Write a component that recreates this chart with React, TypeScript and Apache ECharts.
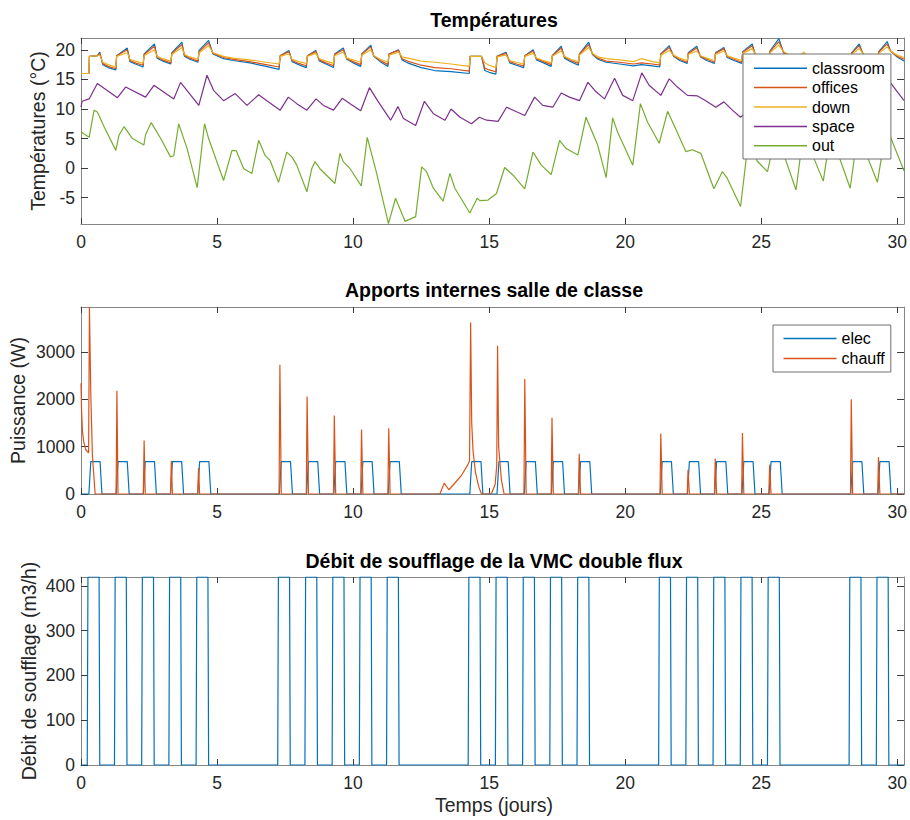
import React, { useEffect, useRef } from 'react';
import * as echarts from 'echarts';

// ---------- tick labels ----------
const xTicks = [0, 5, 10, 15, 20, 25, 30];
const tempTicks = [-5, 0, 5, 10, 15, 20];
const powerTicks = [0, 1000, 2000, 3000];
const flowTicks = [0, 100, 200, 300, 400];

// ---------- Températures : classroom / offices / down (shared time stamps, days) ----------
const topTimes = [
  0, 0.29, 0.31, 0.6, 0.69, 0.8, 1.0, 1.28,
  1.31, 1.7, 1.8, 2.0, 2.28,
  2.32, 2.7, 2.8, 3.0, 3.3,
  3.34, 3.71, 3.8, 4.0, 4.3,
  4.34, 4.69, 4.85, 5.24, 5.6, 6.2, 6.8, 7.28,
  7.32, 7.64, 7.76, 8.0, 8.28,
  8.32, 8.63, 8.76, 9.0, 9.28,
  9.32, 9.64, 9.77, 10.0, 10.28,
  10.32, 10.65, 10.76, 11.0, 11.28,
  11.32, 11.67, 11.8, 12.0, 12.5, 13.0, 13.6, 14.27,
  14.3, 14.72, 14.84, 15.0, 15.25,
  15.29, 15.62, 15.76, 16.0, 16.27,
  16.31, 16.62, 16.74, 17.0, 17.28,
  17.32, 17.65, 17.77, 18.0, 18.28,
  18.32, 18.66, 18.8, 19.0, 19.3, 19.8, 20.3, 20.6, 21.0, 21.27,
  21.31, 21.62, 21.78, 22.0, 22.28,
  22.32, 22.63, 22.77, 23.0, 23.28,
  23.32, 23.63, 23.75, 24.0, 24.28,
  24.32, 24.67, 24.79, 25.0, 25.28,
  25.32, 25.65, 25.82, 26.0, 26.4, 26.56, 26.7, 27.0, 27.5, 28.0, 28.28,
  28.32, 28.6, 28.76, 29.0, 29.28,
  29.32, 29.63, 29.75, 30.0, 30.25,
];
const classroom = [
  16.0, 16.0, 18.9, 19.0, 19.6, 17.5, 17.0, 16.6,
  19.0, 20.3, 18.0, 17.6, 17.1,
  19.3, 21.0, 18.6, 18.1, 17.6,
  19.5, 21.3, 18.9, 18.4, 17.9,
  19.9, 21.6, 19.3, 18.5, 18.2, 17.8, 17.2, 16.7,
  19.0, 19.9, 18.0, 17.5, 17.0,
  19.0, 19.9, 18.1, 17.6, 17.0,
  19.3, 20.3, 18.4, 17.8, 17.2,
  19.3, 20.8, 18.9, 18.0, 17.2,
  19.3, 20.0, 18.3, 17.8, 17.0, 16.5, 16.3, 16.0,
  18.9, 18.9, 16.5, 16.2, 15.9,
  18.9, 19.6, 17.8, 17.4, 17.0,
  19.0, 20.0, 18.3, 17.8, 17.2,
  19.0, 20.6, 18.6, 18.0, 17.4,
  19.3, 21.3, 19.2, 18.4, 17.9, 17.6, 17.3, 17.5, 17.3, 17.1,
  19.3, 20.7, 18.9, 18.2, 17.7,
  19.5, 20.6, 18.8, 18.2, 17.7,
  19.5, 20.4, 18.7, 18.2, 17.7,
  19.7, 21.0, 19.0, 18.4, 17.9,
  19.8, 21.9, 19.5, 18.8, 18.3, 18.2, 18.1, 17.9, 17.7, 17.5, 17.4,
  19.5, 21.0, 19.1, 18.5, 18.0,
  19.7, 21.4, 19.8, 18.8, 18.1,
];
const offices = [
  16.0, 16.0, 18.9, 19.0, 19.4, 17.7, 17.2, 16.8,
  19.0, 20.0, 18.2, 17.8, 17.4,
  19.2, 20.6, 18.8, 18.3, 17.8,
  19.4, 20.9, 19.1, 18.6, 18.1,
  19.7, 21.2, 19.4, 18.7, 18.4, 18.0, 17.5, 17.1,
  19.0, 19.7, 18.2, 17.7, 17.3,
  19.0, 19.7, 18.3, 17.8, 17.3,
  19.2, 20.0, 18.5, 18.0, 17.5,
  19.3, 20.5, 19.0, 18.2, 17.5,
  19.3, 19.9, 18.5, 18.1, 17.4, 17.0, 16.8, 16.4,
  18.9, 18.9, 16.9, 16.6, 16.3,
  18.9, 19.4, 18.0, 17.6, 17.3,
  19.0, 19.8, 18.5, 18.0, 17.5,
  19.0, 20.3, 18.8, 18.2, 17.7,
  19.3, 20.9, 19.3, 18.6, 18.1, 17.9, 17.6, 17.8, 17.6, 17.4,
  19.3, 20.4, 19.0, 18.4, 17.9,
  19.4, 20.3, 18.9, 18.4, 17.9,
  19.4, 20.2, 18.9, 18.4, 17.9,
  19.6, 20.7, 19.1, 18.6, 18.1,
  19.7, 21.4, 19.6, 19.0, 18.6, 18.6, 18.4, 18.2, 18.0, 17.8, 17.7,
  19.4, 20.7, 19.2, 18.7, 18.2,
  19.6, 21.0, 19.8, 18.9, 18.4,
];
const down = [
  16.0, 16.0, 18.9, 19.0, 19.1, 17.9, 17.5, 17.1,
  18.9, 19.5, 18.4, 18.1, 17.7,
  19.0, 20.0, 18.9, 18.5, 18.1,
  19.2, 20.4, 19.2, 18.8, 18.4,
  19.5, 20.7, 19.5, 18.9, 18.6, 18.3, 17.9, 17.6,
  18.9, 19.3, 18.4, 18.0, 17.7,
  18.9, 19.4, 18.5, 18.1, 17.7,
  19.0, 19.6, 18.6, 18.3, 17.9,
  19.1, 20.0, 19.0, 18.4, 17.9,
  19.1, 19.6, 18.8, 18.6, 18.1, 17.9, 17.6, 17.2,
  18.9, 18.9, 17.8, 17.4, 17.0,
  18.8, 19.1, 18.2, 17.9, 17.6,
  18.9, 19.4, 18.6, 18.2, 17.8,
  18.9, 19.8, 18.9, 18.4, 18.0,
  19.1, 20.4, 19.4, 18.8, 18.5, 18.3, 18.0, 18.5, 18.0, 17.8,
  19.1, 19.9, 19.1, 18.6, 18.2,
  19.2, 19.8, 19.0, 18.6, 18.2,
  19.2, 19.8, 19.0, 18.6, 18.2,
  19.4, 20.2, 19.2, 18.8, 18.4,
  19.5, 20.8, 19.7, 19.2, 18.9, 19.6, 19.0, 18.7, 18.4, 18.2, 18.1,
  19.2, 20.2, 19.3, 18.9, 18.5,
  19.4, 20.5, 19.8, 19.1, 18.7,
];

// ---------- space / out : [day, °C] ----------
const space = [
  [0, 10.3], [0.04, 11.3], [0.3, 11.7], [0.6, 14.3], [1.34, 11.9], [1.64, 13.7], [2.37, 12.0], [2.68, 14.0],
  [3.41, 11.7], [3.66, 14.5], [4.33, 10.6], [4.63, 15.7], [4.88, 13.1], [5.24, 11.4], [5.67, 12.6], [6.1, 10.6],
  [6.53, 12.4], [6.83, 11.4], [7.32, 9.8], [7.62, 12.0], [7.93, 10.9], [8.3, 9.8], [8.64, 11.7], [8.91, 10.6],
  [9.28, 9.8], [9.6, 11.8], [9.89, 10.9], [10.28, 9.7], [10.6, 13.6], [10.93, 11.2], [11.38, 8.1], [11.65, 10.4],
  [11.85, 8.4], [12.3, 7.2], [12.62, 11.3], [12.95, 9.2], [13.38, 8.1], [13.6, 10.0], [13.93, 8.6], [14.35, 7.5],
  [14.64, 8.6], [14.91, 8.1], [15.33, 7.9], [15.64, 10.3], [16.31, 8.9], [16.67, 12.0], [16.97, 10.6], [17.34, 10.3],
  [17.65, 12.7], [17.95, 12.0], [18.32, 11.4], [18.63, 14.5], [18.93, 12.9], [19.24, 11.7], [19.61, 15.2], [19.91, 12.3],
  [20.28, 11.4], [20.61, 16.1], [20.88, 14.0], [21.31, 12.3], [21.62, 15.1], [21.92, 13.7], [22.29, 12.3], [22.66, 12.2],
  [22.96, 11.4], [23.33, 10.3], [23.63, 11.2], [23.94, 9.8], [24.24, 8.6], [24.6, 10.0], [25.3, 8.8], [25.65, 12.5],
  [26.3, 10.5], [26.6, 12.0], [27.3, 10.5], [28.3, 10.5], [28.6, 13.0], [29.3, 11.5], [29.64, 15.1], [30.25, 11.4],
];
const out = [
  [0, 6.1], [0.3, 5.2], [0.48, 9.8], [0.6, 9.5], [0.85, 7.0], [1.28, 3.0], [1.4, 5.6], [1.58, 7.0], [1.89, 5.0],
  [2.31, 3.9], [2.37, 5.6], [2.58, 7.7], [2.93, 5.0], [3.29, 1.9], [3.41, 2.1], [3.59, 7.5], [3.9, 3.3], [4.27, -3.3],
  [4.54, 7.5], [4.69, 5.0], [5.24, -2.1], [5.55, 3.0], [5.71, 2.9], [5.98, -0.1], [6.28, -0.9], [6.53, 4.7],
  [6.77, 2.1], [6.95, 1.3], [7.26, -2.4], [7.56, 2.7], [7.75, 1.9], [7.93, 0.5], [8.3, -4.0], [8.48, -0.1],
  [8.6, 1.1], [8.78, -0.1], [9.33, -2.6], [9.52, 2.5], [9.64, 1.1], [9.89, -0.1], [10.3, -3.0], [10.52, 5.2],
  [10.85, -0.6], [11.3, -9.4], [11.56, -5.1], [11.91, -9.0], [12.3, -8.2], [12.52, 0.2], [12.7, -0.6], [12.95, -3.4],
  [13.31, -5.6], [13.56, -0.9], [13.74, -3.4], [14.29, -7.6], [14.56, -5.1], [14.66, -5.5], [14.96, -5.4], [15.27, -4.3],
  [15.57, 0.1], [15.88, -1.2], [16.31, -3.5], [16.61, 2.7], [16.92, 0.5], [17.28, -1.1], [17.59, 4.7], [17.83, 3.3],
  [18.26, 2.2], [18.56, 8.6], [18.99, 3.9], [19.3, -1.6], [19.54, 8.5], [19.72, 6.1], [20.28, 0.5], [20.56, 10.9],
  [20.82, 7.8], [21.25, 4.2], [21.56, 9.6], [21.8, 7.2], [22.23, 2.8], [22.47, 3.1], [22.78, 2.5], [23.26, -3.5],
  [23.57, -0.6], [23.75, -1.7], [24.24, -6.5], [24.55, 5.5], [24.85, 1.2], [25.23, -0.6], [25.55, 6.0], [26.28, -3.7],
  [26.55, 6.0], [27.28, -2.2], [27.55, 6.0], [28.27, -3.4], [28.55, 6.0], [29.27, -2.4], [29.6, 7.0], [30.25, -0.5],
];

// ---------- Apports internes ----------
const occupiedDays = [0, 1, 2, 3, 4, 7, 8, 9, 10, 11, 14, 15, 16, 17, 18, 21, 22, 23, 24, 25, 28, 29];
const elecLevel = 685; // W
const elecEdges = [0.29, 0.36, 0.7, 0.77]; // day fractions: rise start, rise end, fall start, fall end
const chauff = [
  [0, 2340], [0.02, 1800], [0.05, 1350], [0.1, 1100], [0.18, 930], [0.28, 870], [0.31, 3950], [0.36, 2100], [0.42, 800], [0.52, 0],
  [1.29, 0], [1.32, 2180], [1.36, 0],
  [2.29, 0], [2.32, 1130], [2.36, 0],
  [3.29, 0], [3.32, 700], [3.36, 0],
  [4.29, 0], [4.32, 550], [4.36, 0],
  [7.28, 0], [7.31, 2730], [7.36, 0],
  [8.28, 0], [8.31, 2060], [8.36, 0],
  [9.28, 0], [9.31, 1660], [9.36, 0],
  [10.28, 0], [10.31, 1360], [10.36, 0],
  [11.28, 0], [11.31, 1390], [11.36, 0],
  [13.19, 0], [13.35, 230], [13.52, 90], [13.68, 190], [13.99, 400], [14.21, 610], [14.28, 700], [14.32, 3620],
  [14.36, 1500], [14.41, 900], [14.5, 450], [14.62, 150], [14.72, 0],
  [15.08, 0], [15.22, 200], [15.28, 600], [15.31, 3130], [15.35, 1000], [15.45, 300], [15.55, 0],
  [16.28, 0], [16.31, 2430], [16.36, 0],
  [17.28, 0], [17.31, 1610], [17.36, 0],
  [18.28, 0], [18.31, 850], [18.36, 0],
  [21.28, 0], [21.31, 1280], [21.36, 0],
  [22.28, 0], [22.31, 510], [22.36, 0],
  [23.28, 0], [23.31, 750], [23.36, 0],
  [24.28, 0], [24.31, 1290], [24.36, 0],
  [25.28, 0], [25.31, 620], [25.36, 0],
  [28.28, 0], [28.31, 2000], [28.36, 0],
  [29.28, 0], [29.31, 780], [29.36, 0],
  [30.25, 0],
];

// ---------- Débit de soufflage ----------
const ventLevel = 420; // m3/h
const ventEdges = [0.23, 0.255, 0.665, 0.69];

const X_MAX = 30.25;

function pulses(days: number[], edges: number[], level: number) {
  const pts: number[][] = [[0, 0]];
  days.forEach((d) => {
    pts.push([d + edges[0], 0], [d + edges[1], level], [d + edges[2], level], [d + edges[3], 0]);
  });
  pts.push([X_MAX, 0]);
  return pts;
}

const FONT = '"Liberation Sans", Arial, sans-serif';
const AXIS_COLOR = '#858585';
const TICK_COLOR = '#3a3a3a';
const LABEL_COLOR = '#262626';
const plain = (v: number) => String(v);

function xAxisDef(gridIndex: number, bottom: boolean) {
  return {
    type: 'value',
    gridIndex,
    min: 0,
    max: X_MAX,
    position: bottom ? 'bottom' : 'top',
    axisLine: { show: true, onZero: false, lineStyle: { color: AXIS_COLOR, width: 1 } },
    axisTick: { show: true, inside: true, length: 6, customValues: xTicks, lineStyle: { color: TICK_COLOR } },
    axisLabel: { show: bottom, customValues: xTicks, formatter: plain, margin: 9, fontSize: 17.5, color: LABEL_COLOR, fontFamily: FONT },
    splitLine: { show: false },
  };
}

function yAxisDef(gridIndex: number, left: boolean, min: number, max: number, ticks: number[]) {
  return {
    type: 'value',
    gridIndex,
    min,
    max,
    position: left ? 'left' : 'right',
    axisLine: { show: true, onZero: false, lineStyle: { color: AXIS_COLOR, width: 1 } },
    axisTick: { show: true, inside: true, length: 7, customValues: ticks, lineStyle: { color: TICK_COLOR } },
    axisLabel: { show: left, customValues: ticks, formatter: plain, margin: 6, fontSize: 17.5, color: LABEL_COLOR, fontFamily: FONT },
    splitLine: { show: false },
  };
}

function lineSeries(name: string, data: number[][], color: string, axisIndex: number) {
  return {
    type: 'line',
    name,
    data,
    xAxisIndex: axisIndex * 2,
    yAxisIndex: axisIndex * 2,
    showSymbol: false,
    symbol: 'none',
    silent: true,
    lineStyle: { color, width: 1.2 },
    itemStyle: { color },
  };
}

function legendDef(names: string[], left: number, top: number, rowH: number, padding: number[]) {
  return {
    data: names,
    orient: 'vertical',
    left,
    top,
    padding,
    itemGap: 0,
    itemWidth: 53,
    itemHeight: 1.5,
    icon: 'rect',
    selectedMode: false,
    backgroundColor: '#ffffff',
    borderColor: '#707070',
    borderWidth: 1,
    textStyle: { fontSize: 16, lineHeight: rowH, color: '#000', fontFamily: FONT },
  };
}

function textEl(text: string, x: number, y: number, size: number, bold: boolean, rotate = false) {
  return {
    type: 'text',
    x,
    y,
    rotation: rotate ? Math.PI / 2 : 0,
    silent: true,
    style: {
      text,
      font: `${bold ? 'bold ' : ''}${size}px ${FONT}`,
      fill: bold ? '#000' : LABEL_COLOR,
      textAlign: 'center',
      textVerticalAlign: 'middle',
    },
  };
}

export default function App() {
  const ref = useRef<HTMLDivElement>(null);

  useEffect(() => {
    if (!ref.current) return;
    const chart = echarts.init(ref.current, undefined, { renderer: 'svg' });

    const zip = (vals: number[]) => topTimes.map((t, i) => [t, vals[i]]);

    const option = {
      animation: false,
      backgroundColor: '#ffffff',
      textStyle: { fontFamily: FONT },
      grid: [
        { left: 81, top: 38, width: 826, height: 186 },
        { left: 81, top: 307, width: 826, height: 187 },
        { left: 81, top: 577, width: 826, height: 188 },
      ],
      xAxis: [
        xAxisDef(0, true), xAxisDef(0, false),
        xAxisDef(1, true), xAxisDef(1, false),
        xAxisDef(2, true), xAxisDef(2, false),
      ],
      yAxis: [
        yAxisDef(0, true, -9.45, 22, tempTicks), yAxisDef(0, false, -9.45, 22, tempTicks),
        yAxisDef(1, true, 0, 3950, powerTicks), yAxisDef(1, false, 0, 3950, powerTicks),
        yAxisDef(2, true, 0, 420, flowTicks), yAxisDef(2, false, 0, 420, flowTicks),
      ],
      legend: [
        legendDef(['classroom', 'offices', 'down', 'space', 'out'], 743, 54, 19.4, [4.5, 6, 3.5, 11]),
        legendDef(['elec', 'chauff'], 773, 325, 20, [3.5, 6, 3.5, 10.5]),
      ],
      series: [
        lineSeries('classroom', zip(classroom), '#0072BD', 0),
        lineSeries('offices', zip(offices), '#D95319', 0),
        lineSeries('down', zip(down), '#EDB120', 0),
        lineSeries('space', space, '#7E2F8E', 0),
        lineSeries('out', out, '#77AC30', 0),
        lineSeries('elec', pulses(occupiedDays, elecEdges, elecLevel), '#0072BD', 1),
        lineSeries('chauff', chauff, '#D95319', 1),
        lineSeries('débit', pulses(occupiedDays, ventEdges, ventLevel), '#0072BD', 2),
      ],
      graphic: [
        textEl('Températures', 494, 19.5, 19.5, true),
        textEl('Apports internes salle de classe', 494, 290, 19.5, true),
        textEl('Débit de soufflage de la VMC double flux', 494, 561, 19.5, true),
        textEl('Températures (°C)', 38, 131, 19.5, false, true),
        textEl('Puissance (W)', 18, 400.5, 19.5, false, true),
        textEl('Débit de soufflage (m3/h)', 29, 671, 19.5, false, true),
        textEl('Temps (jours)', 494, 805, 19.5, false),
      ],
    };

    chart.setOption(option as any);
    return () => chart.dispose();
  }, []);

  return (
    <div
      ref={ref}
      style={{ position: 'absolute', left: 0, top: 0, width: 910, height: 820, background: '#fff' }}
    />
  );
}
